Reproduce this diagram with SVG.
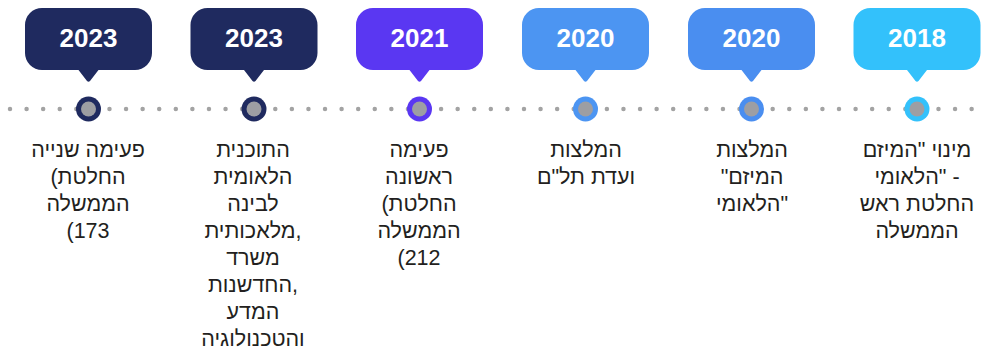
<svg xmlns="http://www.w3.org/2000/svg" width="984" height="354" viewBox="0 0 984 354">
<style>
.year{font-family:"Liberation Sans",Arial,sans-serif;font-weight:bold;font-size:26px;fill:#ffffff;text-anchor:middle}
.lbl{font-family:"Liberation Sans",Arial,sans-serif;font-size:21.5px;fill:#231f20;text-anchor:middle;direction:ltr}
.inner{fill:#9d9ea3}
.navy{fill:#1f2a5f}
.purple{fill:#5a37f2}
.blue1{fill:#4c95f2}
.blue2{fill:#4a8ef0}
.cyan{fill:#33c1fb}
</style>
<defs>
<path id="bubble" d="M-46.5,8 H46.5 A17,17 0 0 1 63.5,25 V53 A17,17 0 0 1 46.5,70 H10 L1.5,81 Q0,82.5 -1.5,81 L-10,70 H-46.5 A17,17 0 0 1 -63.5,53 V25 A17,17 0 0 1 -46.5,8 Z"/>
</defs>
<rect width="984" height="354" fill="#ffffff"/>
<g id="connectors">
<line x1="10" y1="109" x2="972" y2="109" stroke="#a3a3a3" stroke-width="4.5" stroke-linecap="round" stroke-dasharray="0 16.58"/>
</g>
<g id="node-2023b">
<use href="#bubble" x="88.5" class="navy"/>
<text class="year" x="88.5" y="47">2023</text>
<circle cx="88.5" cy="109" r="12.5" class="navy"/>
<circle cx="88.5" cy="109" r="7.5" class="inner"/>
<text class="lbl"><tspan x="88" y="157">פעימה שנייה</tspan><tspan x="88" y="184">(החלטת</tspan><tspan x="88" y="211">הממשלה</tspan><tspan x="88" y="238">(173</tspan></text>
</g>
<g id="node-2023a">
<use href="#bubble" x="254" class="navy"/>
<text class="year" x="254" y="47">2023</text>
<circle cx="254" cy="109" r="12.5" class="navy"/>
<circle cx="254" cy="109" r="7.5" class="inner"/>
<text class="lbl"><tspan x="253" y="157">התוכנית</tspan><tspan x="253" y="184">הלאומית</tspan><tspan x="253" y="211">לבינה</tspan><tspan x="253" y="238">מלאכותית,</tspan><tspan x="253" y="265">משרד</tspan><tspan x="253" y="292">החדשנות,</tspan><tspan x="253" y="319">המדע</tspan><tspan x="253" y="346">והטכנולוגיה</tspan></text>
</g>
<g id="node-2021">
<use href="#bubble" x="419.5" class="purple"/>
<text class="year" x="419.5" y="47">2021</text>
<circle cx="419.5" cy="109" r="12.5" class="purple"/>
<circle cx="419.5" cy="109" r="7.5" class="inner"/>
<text class="lbl"><tspan x="419" y="157">פעימה</tspan><tspan x="419" y="184">ראשונה</tspan><tspan x="419" y="211">(החלטת</tspan><tspan x="419" y="238">הממשלה</tspan><tspan x="419" y="265">(212</tspan></text>
</g>
<g id="node-2020b">
<use href="#bubble" x="585.5" class="blue1"/>
<text class="year" x="585.5" y="47">2020</text>
<circle cx="585.5" cy="109" r="12.5" class="blue1"/>
<circle cx="585.5" cy="109" r="7.5" class="inner"/>
<text class="lbl"><tspan x="586" y="157">המלצות</tspan><tspan x="586" y="184">ועדת תל"ם</tspan></text>
</g>
<g id="node-2020a">
<use href="#bubble" x="751.5" class="blue2"/>
<text class="year" x="751.5" y="47">2020</text>
<circle cx="751.5" cy="109" r="12.5" class="blue2"/>
<circle cx="751.5" cy="109" r="7.5" class="inner"/>
<text class="lbl"><tspan x="752" y="157">המלצות</tspan><tspan x="752" y="184">"המיזם</tspan><tspan x="752" y="211">הלאומי"</tspan></text>
</g>
<g id="node-2018">
<use href="#bubble" x="917" class="cyan"/>
<text class="year" x="917" y="47">2018</text>
<circle cx="917" cy="109" r="12.5" class="cyan"/>
<circle cx="917" cy="109" r="7.5" class="inner"/>
<text class="lbl"><tspan x="917" y="157">מינוי "המיזם</tspan><tspan x="917" y="184">הלאומי" -</tspan><tspan x="917" y="211">החלטת ראש</tspan><tspan x="917" y="238">הממשלה</tspan></text>
</g>
</svg>
